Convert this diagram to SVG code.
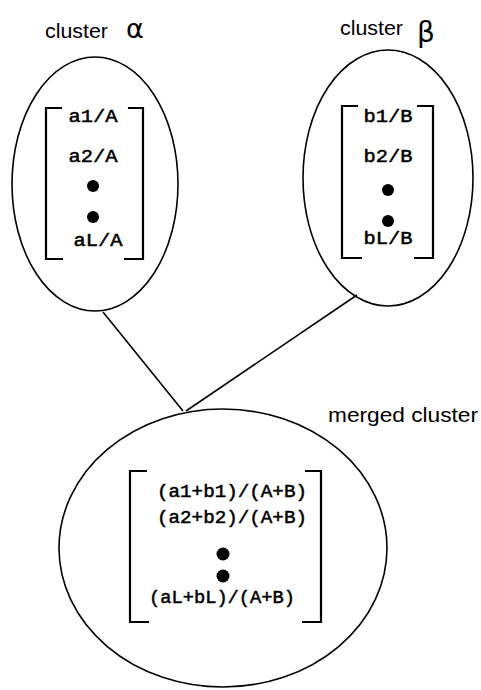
<svg xmlns="http://www.w3.org/2000/svg" width="481" height="690" viewBox="0 0 481 690">
  <style>
    .shape { fill: none; stroke: #000; stroke-width: 1.6; }
    .bracket { fill: none; stroke: #000; stroke-width: 2.2; }
    .edge { stroke: #000; stroke-width: 1.6; fill: none; }
    .label { font-family: "Liberation Sans", Arial, sans-serif; font-size: 21px; fill: #000; }
    .greek { font-family: "DejaVu Sans", "Liberation Sans", sans-serif; fill: #000; }
    .entry { font-family: "Liberation Mono", "Courier New", monospace; font-size: 18px; fill: #000; stroke: #000; stroke-width: 0.5; text-anchor: middle; }
    .dot { fill: #000; }
  </style>
  <rect width="481" height="690" fill="#fff"/>

  <!-- connectors between the two clusters and the merged cluster -->
  <g id="connectors">
    <line class="edge" x1="103" y1="312" x2="183" y2="411"/>
    <line class="edge" x1="357" y1="295" x2="186" y2="411"/>
  </g>

  <!-- cluster alpha -->
  <g id="cluster-alpha">
    <text class="label" x="45" y="38" textLength="63" lengthAdjust="spacingAndGlyphs">cluster</text>
    <text class="greek" x="126" y="38" font-size="27">α</text>
    <ellipse class="shape" cx="95" cy="184" rx="83" ry="127"/>
    <path class="bracket" d="M62 108 H46 V259 H63"/>
    <path class="bracket" d="M128 108 H143 V259 H124"/>
    <text class="entry" x="93" y="122" textLength="49" lengthAdjust="spacingAndGlyphs">a1/A</text>
    <text class="entry" x="93" y="162" textLength="49" lengthAdjust="spacingAndGlyphs">a2/A</text>
    <circle class="dot" cx="93" cy="186" r="6"/>
    <circle class="dot" cx="93" cy="217" r="6"/>
    <text class="entry" x="98" y="246" textLength="49" lengthAdjust="spacingAndGlyphs">aL/A</text>
  </g>

  <!-- cluster beta -->
  <g id="cluster-beta">
    <text class="label" x="340" y="35" textLength="63" lengthAdjust="spacingAndGlyphs">cluster</text>
    <text class="greek" x="417" y="42" font-size="28">β</text>
    <ellipse class="shape" cx="388" cy="178" rx="85" ry="128"/>
    <path class="bracket" d="M358 106 H342 V258 H362"/>
    <path class="bracket" d="M417 106 H433 V258 H414"/>
    <text class="entry" x="388" y="122" textLength="49" lengthAdjust="spacingAndGlyphs">b1/B</text>
    <text class="entry" x="388" y="162" textLength="49" lengthAdjust="spacingAndGlyphs">b2/B</text>
    <circle class="dot" cx="388" cy="190" r="6"/>
    <circle class="dot" cx="388" cy="221" r="6"/>
    <text class="entry" x="388" y="244" textLength="49" lengthAdjust="spacingAndGlyphs">bL/B</text>
  </g>

  <!-- merged cluster -->
  <g id="merged-cluster">
    <text class="label" x="328" y="422" textLength="150" lengthAdjust="spacingAndGlyphs">merged cluster</text>
    <ellipse class="shape" cx="223" cy="548" rx="164" ry="139"/>
    <path class="bracket" d="M147 471 H130 V622 H149"/>
    <path class="bracket" d="M305 471 H321 V622 H302"/>
    <text class="entry" x="232" y="497" textLength="150" lengthAdjust="spacingAndGlyphs">(a1+b1)/(A+B)</text>
    <text class="entry" x="232" y="523" textLength="150" lengthAdjust="spacingAndGlyphs">(a2+b2)/(A+B)</text>
    <circle class="dot" cx="223" cy="554" r="6.5"/>
    <circle class="dot" cx="223" cy="576" r="6.5"/>
    <text class="entry" x="222" y="603" textLength="146" lengthAdjust="spacingAndGlyphs">(aL+bL)/(A+B)</text>
  </g>
</svg>
